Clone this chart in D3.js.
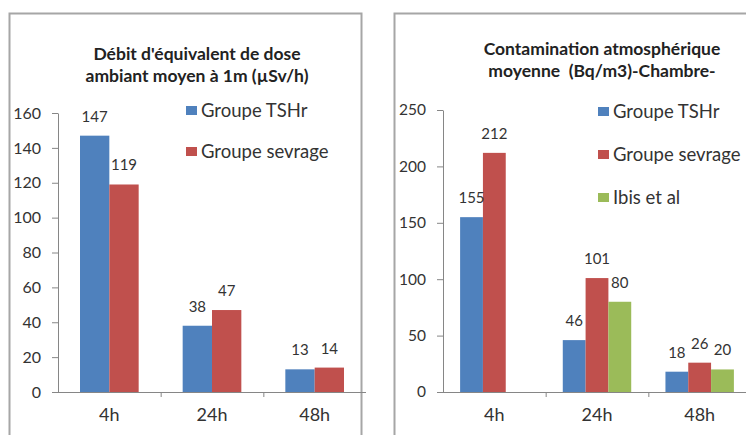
<!DOCTYPE html>
<html>
<head>
<meta charset="utf-8">
<script src="https://cdn.jsdelivr.net/npm/d3@7"></script>
<style>
  body { margin: 0; background: #fff; }
  svg text { font-family: Lato, "Open Sans", sans-serif; fill: #333; }
</style>
</head>
<body>
<div id="chart"></div>
<script>
(function(){
// categories and series
const categories = ["4h", "24h", "48h"];

const leftSeries = ["Groupe TSHr", "Groupe sevrage"];
const leftTshr = [147, 38, 13];
const leftSevrage = [119, 47, 14];
const leftTicks = [0, 20, 40, 60, 80, 100, 120, 140, 160];

const rightSeries = ["Groupe TSHr", "Groupe sevrage", "Ibis et al"];
const rightTshr = [155, 46, 18];
const rightSevrage = [212, 101, 26];
const rightIbis = [null, 80, 20];
const rightTicks = [0, 50, 100, 150, 200, 250];

const colors = ["#4F81BD", "#C0504D", "#9BBB59"];

const svg = d3.select("#chart").append("svg")
    .attr("width", 746)
    .attr("height", 435);

// panel frames
svg.append("rect").attr("x", 9.5).attr("y", 13.5).attr("width", 352).attr("height", 440)
    .attr("fill", "none").attr("stroke", "#a6a6a6").attr("stroke-width", 2);
svg.append("rect").attr("x", 394.5).attr("y", 13.5).attr("width", 400).attr("height", 440)
    .attr("fill", "none").attr("stroke", "#a6a6a6").attr("stroke-width", 2);

function drawPanel(opt) {
    const g = svg.append("g");

    const x = d3.scaleBand().domain(categories).range(opt.xRange);
    const x1 = d3.scaleBand().domain(opt.series).range([0, x.bandwidth()]).paddingOuter(0.75);
    const y = d3.scaleLinear().domain([0, d3.max(opt.ticks)]).range(opt.yRange);

    const rows = [];
    categories.forEach((c, i) => {
        opt.values.forEach((vals, s) => {
            if (vals[i] != null) rows.push({ cat: c, s: opt.series[s], idx: s, v: vals[i] });
        });
    });

    // bars
    g.selectAll("rect.bar").data(rows).enter().append("rect")
        .attr("class", "bar")
        .attr("x", d => x(d.cat) + x1(d.s))
        .attr("y", d => y(d.v))
        .attr("width", x1.bandwidth())
        .attr("height", d => y(0) - y(d.v))
        .attr("fill", d => colors[d.idx]);

    // value labels
    g.selectAll("text.val").data(rows).enter().append("text")
        .attr("class", "val")
        .attr("x", d => x(d.cat) + x1(d.s) + x1.bandwidth() / 2)
        .attr("y", d => y(d.v) - 14)
        .attr("text-anchor", "middle")
        .style("font-size", opt.valSize + "px")
        .text(d => d.v);

    // y axis
    const ya = g.append("g")
        .attr("transform", `translate(${opt.xRange[0]},0)`)
        .call(d3.axisLeft(y).tickValues(opt.ticks).tickSize(6).tickSizeOuter(0).tickPadding(11));
    ya.select(".domain").attr("stroke", "#868686");
    ya.selectAll(".tick line").attr("stroke", "#868686");
    ya.selectAll(".tick text").style("font-size", opt.tickSize + "px").attr("fill", "#333");

    // x axis
    const xa = g.append("g")
        .attr("transform", `translate(0,${y(0)})`)
        .call(d3.axisBottom(x).tickSize(0).tickSizeOuter(0).tickPadding(16));
    xa.select(".domain").attr("stroke", "#868686").attr("d", `M${opt.xRange[0] - 6},0.5H${opt.xRange[1]}`);
    xa.selectAll(".tick text").style("font-size", "18px").attr("fill", "#333");
    g.selectAll("line.xt").data(categories.slice(1)).enter().append("line")
        .attr("class", "xt")
        .attr("x1", d => x(d) + 0.5).attr("x2", d => x(d) + 0.5)
        .attr("y1", y(0)).attr("y2", y(0) + 5)
        .attr("stroke", "#868686");

    // title
    g.selectAll("text.title").data(opt.title).enter().append("text")
        .attr("class", "title")
        .attr("x", opt.titleX)
        .attr("y", (d, i) => opt.titleY[i])
        .attr("text-anchor", "middle")
        .style("font-size", "17.5px")
        .style("font-weight", "bold")
        .style("white-space", "pre")
        .style("fill", "#222")
        .text(d => d);

    // legend
    const lg = g.selectAll("g.leg").data(opt.series).enter().append("g")
        .attr("transform", (d, i) => `translate(${opt.legX},${opt.legY[i]})`);
    lg.append("rect").attr("x", 0).attr("y", -5).attr("width", 11).attr("height", 9)
        .attr("fill", (d, i) => colors[i]);
    lg.append("text").attr("x", 15).attr("y", 6)
        .style("font-size", "18.5px")
        .text(d => d);
}

drawPanel({
    series: leftSeries,
    values: [leftTshr, leftSevrage],
    ticks: leftTicks,
    xRange: [58, 366],
    yRange: [392, 113],
    title: ["Débit d'équivalent de dose", "ambiant moyen à 1m (µSv/h)"],
    titleX: 197, titleY: [60, 82],
    legX: 186, legY: [111, 152],
    valSize: 15, tickSize: 16
});

drawPanel({
    series: rightSeries,
    values: [rightTshr, rightSevrage, rightIbis],
    ticks: rightTicks,
    xRange: [443, 751],
    yRange: [392, 110],
    title: ["Contamination atmosphérique", "moyenne  (Bq/m3)-Chambre-"],
    titleX: 602, titleY: [55, 77],
    legX: 598, legY: [112, 155, 198],
    valSize: 15, tickSize: 15.5
});
})();
</script>
</body>
</html>
